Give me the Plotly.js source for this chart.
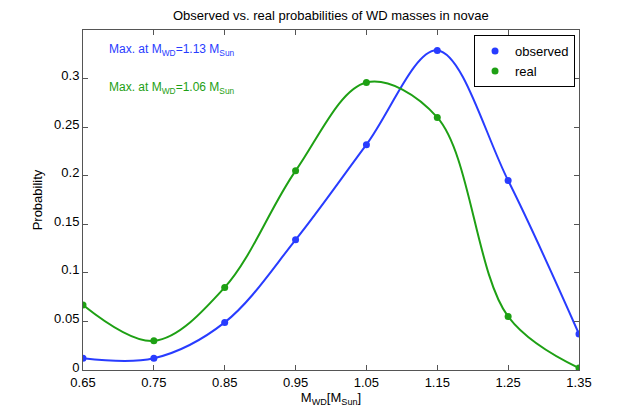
<!DOCTYPE html>
<html>
<head>
<meta charset="utf-8">
<script src="https://cdn.plot.ly/plotly-3.0.1.min.js"></script>
<style>
  body { margin: 0; background: #fff; }
  #graph { width: 640px; height: 418px; }
</style>
</head>
<body>
<div id="graph"></div>
<script>
// WD masses (in solar masses)
var masses = [0.65, 0.75, 0.85, 0.95, 1.05, 1.15, 1.25, 1.35];
var observed = [0.012, 0.012, 0.049, 0.134, 0.232, 0.329, 0.195, 0.037];
var real = [0.067, 0.030, 0.085, 0.205, 0.296, 0.260, 0.055, 0.002];
var xTicks = [0.65, 0.75, 0.85, 0.95, 1.05, 1.15, 1.25, 1.35];
var xTickText = ['0.65', '0.75', '0.85', '0.95', '1.05', '1.15', '1.25', '1.35'];
var yTicks = [0, 0.05, 0.1, 0.15, 0.2, 0.25, 0.3];
var yTickText = ['0', '0.05', '0.1', '0.15', '0.2', '0.25', '0.3'];

var blue = 'rgb(40,60,255)';
var green = 'rgb(30,160,20)';

var obsLine = {
    x: masses, y: observed, mode: 'lines', showlegend: false, hoverinfo: 'skip',
    line: {color: blue, width: 2, shape: 'spline', smoothing: 1}
};
var realLine = {
    x: masses, y: real, mode: 'lines', showlegend: false, hoverinfo: 'skip',
    line: {color: green, width: 2, shape: 'spline', smoothing: 1}
};
var obsPts = {
    x: masses, y: observed, mode: 'markers', name: 'observed',
    marker: {color: blue, size: 7}
};
var realPts = {
    x: masses, y: real, mode: 'markers', name: 'real',
    marker: {color: green, size: 7}
};

var axisStyle = {
    showline: true, linecolor: '#555', linewidth: 1, mirror: 'ticks',
    ticks: 'inside', ticklen: 5, tickcolor: '#555',
    showgrid: false, zeroline: false,
    tickfont: {size: 13, color: '#000'}
};

var layout = {
    width: 640, height: 418,
    margin: {l: 83, r: 61, t: 30, b: 48},
    font: {family: 'Liberation Sans, Arial, sans-serif', color: '#000'},
    title: {text: 'Observed vs. real probabilities of WD masses in novae', font: {size: 13}, x: 0.517, y: 0.975, yanchor: 'top'},
    xaxis: Object.assign({}, axisStyle, {
        range: [0.65, 1.35], tickvals: xTicks, ticktext: xTickText,
        title: {text: 'M<sub>WD</sub>[M<sub>Sun</sub>]', font: {size: 13}, standoff: 4}
    }),
    yaxis: Object.assign({}, axisStyle, {
        range: [0, 0.35], tickvals: yTicks, ticktext: yTickText, ticklabelshift: -3,
        title: {text: 'Probability', font: {size: 13}, standoff: 8}
    }),
    legend: {
        x: 0.992, y: 0.985, xanchor: 'right', yanchor: 'top',
        bordercolor: '#000', borderwidth: 1, bgcolor: '#fff',
        font: {size: 13}, tracegroupgap: 0
    },
    annotations: [
        {xref: 'paper', yref: 'paper', x: 0.048, y: 0.97, xanchor: 'left', showarrow: false,
         text: 'Max. at M<sub>WD</sub>=1.13 M<sub>Sun</sub>', font: {size: 12, color: blue}},
        {xref: 'paper', yref: 'paper', x: 0.048, y: 0.86, xanchor: 'left', showarrow: false,
         text: 'Max. at M<sub>WD</sub>=1.06 M<sub>Sun</sub>', font: {size: 12, color: green}}
    ]
};

Plotly.newPlot('graph', [obsLine, realLine, obsPts, realPts], layout, {displayModeBar: false, staticPlot: true});
</script>
</body>
</html>
